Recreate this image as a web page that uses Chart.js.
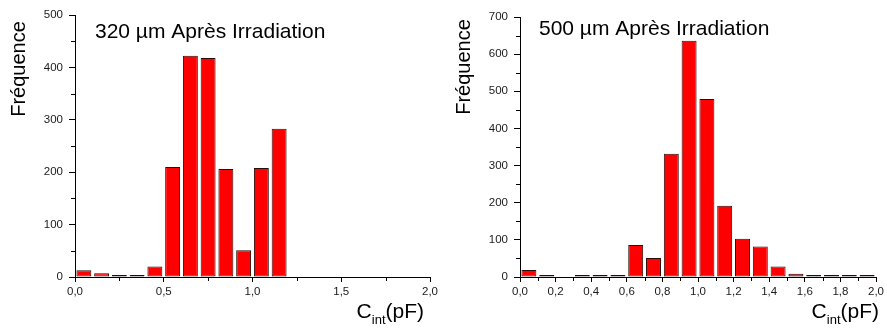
<!DOCTYPE html>
<html><head><meta charset="utf-8">
<script src="https://cdn.jsdelivr.net/npm/chart.js@4/dist/chart.umd.min.js"></script>
<style>
html,body{margin:0;padding:0;background:#fff;}
#wrap{position:relative;width:887px;height:332px;overflow:hidden;background:#fff;}
canvas{position:absolute;top:0;}
#c1{left:0;}
#c2{left:443px;}
</style></head><body>
<div id="wrap"><canvas id="c1" width="443" height="332"></canvas><canvas id="c2" width="444" height="332"></canvas></div>
<script>
// ---- data ----
const binCenters = [0.05,0.15,0.25,0.35,0.45,0.55,0.65,0.75,0.85,0.95,1.05,1.15,1.25,1.35,1.45,1.55,1.65,1.75,1.85,1.95];
const freq320 = [13,7,1,2,20,210,422,418,206,51,208,283,0,0,0,0,0,0,0,0];
const freq500 = [19,1,0,1,1,1,86,51,332,636,479,192,103,82,28,9,3,3,4,3];
const title320 = '320 µm Après Irradiation';
const title500 = '500 µm Après Irradiation';
const yTitle = 'Fréquence';
const xTitleMain = 'C', xTitleSub = 'int', xTitleUnit = '(pF)';

const FONT = '"Liberation Sans", Arial, sans-serif';

const decor = {
  id: 'decor',
  afterDraw(chart, args, o) {
    const ctx = chart.ctx, ca = chart.chartArea, xs = chart.scales.x, ys = chart.scales.y;
    ctx.save();
    ctx.strokeStyle = '#000'; ctx.lineWidth = 1;
    // minor ticks (midpoints between major ticks)
    const xt = xs.ticks.map(t => t.value), yt = ys.ticks.map(t => t.value);
    for (let i = 0; i < xt.length - 1; i++) {
      const px = Math.round(xs.getPixelForValue((xt[i] + xt[i+1]) / 2)) + 0.5;
      ctx.beginPath(); ctx.moveTo(px, ca.bottom); ctx.lineTo(px, ca.bottom + 4); ctx.stroke();
    }
    for (let i = 0; i < yt.length - 1; i++) {
      const py = Math.round(ys.getPixelForValue((yt[i] + yt[i+1]) / 2)) + 0.5;
      ctx.beginPath(); ctx.moveTo(ca.left, py); ctx.lineTo(ca.left - 4, py); ctx.stroke();
    }
    ctx.fillStyle = '#000';
    // inner title
    ctx.font = '21px ' + FONT; ctx.textAlign = 'left'; ctx.textBaseline = 'alphabetic';
    ctx.fillText(o.title, o.titleX, o.titleY);
    // y title
    ctx.save();
    ctx.translate(o.yTitleX, o.yTitleY); ctx.rotate(-Math.PI / 2);
    ctx.textAlign = 'center'; ctx.textBaseline = 'middle';
    ctx.font = '20px ' + FONT;
    ctx.fillText(yTitle, 0, 0);
    ctx.restore();
    // x title with subscript, right-aligned
    const big = '21px ' + FONT, small = '13px ' + FONT;
    ctx.font = big; const wC = ctx.measureText(xTitleMain).width, wU = ctx.measureText(xTitleUnit).width;
    ctx.font = small; const wS = ctx.measureText(xTitleSub).width;
    let x = o.xTitleRight - (wC + wS + wU);
    ctx.textAlign = 'left'; ctx.textBaseline = 'alphabetic';
    ctx.font = big; ctx.fillText(xTitleMain, x, o.xTitleY); x += wC;
    ctx.font = small; ctx.fillText(xTitleSub, x, o.xTitleY + 6); x += wS;
    ctx.font = big; ctx.fillText(xTitleUnit, x, o.xTitleY);
    ctx.restore();
  }
};

function makeChart(id, values, yMax, yStep, xStep, decorOpts, pad) {
  const pts = binCenters.map((c, i) => ({ x: c, y: values[i] === 0 ? null : values[i] }));
  return new Chart(document.getElementById(id), {
    type: 'bar',
    data: { datasets: [{
      data: pts,
      backgroundColor: '#ff0000',
      borderColor: '#2a0a0a',
      borderWidth: 1,
      borderSkipped: false,
      minBarLength: 2,
      barPercentage: 0.84,
      categoryPercentage: 1.0
    }]},
    options: {
      responsive: false, animation: false, devicePixelRatio: 1,
      layout: { padding: pad },
      plugins: { legend: { display: false }, tooltip: { enabled: false }, decor: decorOpts },
      scales: {
        x: {
          type: 'linear', min: 0, max: 2, offset: false,
          afterFit: s => { s.height = 55; },
          grid: { drawOnChartArea: false, drawTicks: true, tickLength: 5, tickColor: '#000', offset: false },
          border: { display: true, color: '#000', width: 1 },
          ticks: { stepSize: xStep, autoSkip: false, maxRotation: 0, padding: 3, color: '#1a1a1a',
                   font: { family: FONT, size: 11.5 },
                   callback: v => v.toFixed(1).replace('.', ',') }
        },
        y: {
          min: 0, max: yMax,
          afterFit: s => { s.width = pad.yw; },
          grid: { drawOnChartArea: false, drawTicks: true, tickLength: 6, tickColor: '#000' },
          border: { display: true, color: '#000', width: 1 },
          ticks: { stepSize: yStep, padding: 6, color: '#1a1a1a', font: { family: FONT, size: 11.5 } }
        }
      }
    },
    plugins: [decor]
  });
}

makeChart('c1', freq320, 500, 100, 0.5,
  { title: title320, titleX: 95, titleY: 38, yTitleX: 19, yTitleY: 69, xTitleRight: 424, xTitleY: 318 },
  { left: 0, top: 15, right: 13, bottom: 0, yw: 75 });
makeChart('c2', freq500, 700, 100, 0.2,
  { title: title500, titleX: 96, titleY: 35, yTitleX: 21, yTitleY: 67, xTitleRight: 436, xTitleY: 318 },
  { left: 0, top: 17, right: 10, bottom: 0, yw: 77 });
</script>
</body></html>
